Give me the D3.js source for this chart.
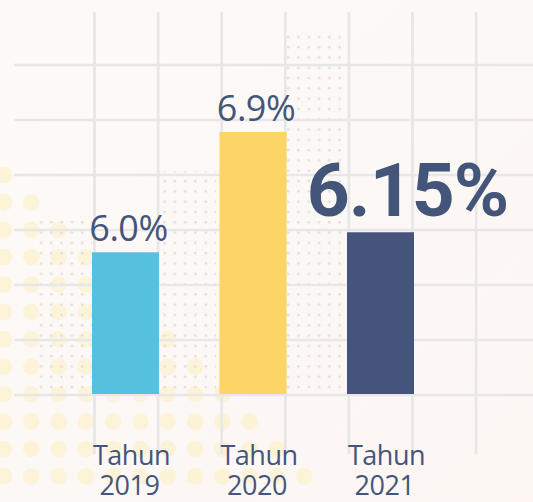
<!DOCTYPE html>
<html>
<head>
<meta charset="utf-8">
<script src="https://cdn.jsdelivr.net/npm/d3@7"></script>
<style>
  html, body { margin: 0; padding: 0; background: #fdf9f7; }
  svg { display: block; }
</style>
</head>
<body>
<svg id="chart" width="533" height="502"></svg>
<script>
// ---- data ----
const categories = ["2019", "2020", "2021"];
const categoryPrefix = "Tahun";
const values = [6.0, 6.9, 6.15];
const valueLabels = ["6.0%", "6.9%", "6.15%"];
const highlightIndex = 2;
const barColors = ["#56c1de", "#fdd466", "#44547a"];

// ---- setup ----
const W = 533, H = 502;
const svg = d3.select("#chart");
const textColor = "#44557a";

// background gradient
const defs = svg.append("defs");
const grad = defs.append("linearGradient").attr("id", "bg")
  .attr("x1", "0").attr("y1", "0").attr("x2", "1").attr("y2", "1");
grad.append("stop").attr("offset", "0").attr("stop-color", "#fdfaf8");
grad.append("stop").attr("offset", "0.5").attr("stop-color", "#fcf8f6");
grad.append("stop").attr("offset", "1").attr("stop-color", "#fdf6f3");
svg.append("rect").attr("width", W).attr("height", H).attr("fill", "url(#bg)");

// small gray dot pattern
const pat = defs.append("pattern").attr("id", "dots")
  .attr("patternUnits", "userSpaceOnUse")
  .attr("width", 10.3).attr("height", 10.3)
  .attr("x", 36).attr("y", 32);
pat.append("circle").attr("cx", 5).attr("cy", 5).attr("r", 1.4).attr("fill", "#e3e0df");

// decorative yellow dots (triangle at lower-left)
const yellow = svg.append("g").attr("fill", "#fdf0c0").attr("opacity", 0.55);
d3.range(12).forEach(j => {
  d3.range(j + 1).forEach(i => {
    yellow.append("circle")
      .attr("cx", 4 + 27.3 * i)
      .attr("cy", 175 + 27.4 * j)
      .attr("r", 8.3);
  });
});

// gray dotted blocks
const dotBlocks = [[37, 216, 55, 173], [159, 171, 57, 218], [287, 33, 56, 356]];
svg.append("g").selectAll("rect").data(dotBlocks).join("rect")
  .attr("x", d => d[0]).attr("y", d => d[1])
  .attr("width", d => d[2]).attr("height", d => d[3])
  .attr("fill", "url(#dots)");

// grid
const grid = svg.append("g").attr("stroke", "#e6e7e6").attr("stroke-width", 2.7);
const gridXs = d3.range(7).map(i => 94.5 + i * 63.6);
const gridYs = d3.range(7).map(i => 395 - i * 55);
grid.selectAll("line.v").data(gridXs).join("line").attr("class", "v")
  .attr("x1", d => d).attr("x2", d => d).attr("y1", 12).attr("y2", 454);
grid.selectAll("line.h").data(gridYs).join("line").attr("class", "h")
  .attr("x1", 14).attr("x2", W).attr("y1", d => d).attr("y2", d => d);

// scales
const x = d3.scaleBand().domain(categories)
  .range([61.75, 444.25]).paddingInner(0.4745).paddingOuter(0.2373);
const y = d3.scaleLinear().domain([4.94, 6.9]).range([394, 132]);

// bars
svg.append("g").selectAll("rect").data(categories).join("rect")
  .attr("x", d => x(d))
  .attr("width", x.bandwidth())
  .attr("y", (d, i) => y(values[i]))
  .attr("height", (d, i) => y.range()[0] - y(values[i]))
  .attr("fill", (d, i) => barColors[i]);

// value labels
svg.append("g").selectAll("text").data(categories).join("text")
  .attr("x", (d, i) => x(d) + x.bandwidth() / 2 + (i === highlightIndex ? 27 : 3))
  .attr("y", (d, i) => y(values[i]) - (i === highlightIndex ? 16 : 11))
  .attr("text-anchor", "middle")
  .attr("fill", textColor)
  .style("font-family", (d, i) => i === highlightIndex ? "Roboto, sans-serif" : "'Open Sans', sans-serif")
  .style("font-weight", (d, i) => i === highlightIndex ? 700 : 400)
  .style("font-size", (d, i) => i === highlightIndex ? "75px" : "36px")
  .style("letter-spacing", (d, i) => i === highlightIndex ? "-1px" : "-0.5px")
  .text((d, i) => valueLabels[i]);

// category axis labels
const xAxis = svg.append("g");
categories.forEach(c => {
  const cx = x(c) + x.bandwidth() / 2;
  const t = xAxis.append("text")
    .attr("x", cx + 6)
    .attr("y", 465)
    .attr("text-anchor", "middle")
    .attr("fill", textColor)
    .style("font-family", "'Open Sans', sans-serif")
    .style("font-size", "27px")
    .style("letter-spacing", "-0.5px");
  t.append("tspan").attr("x", cx + 6).text(categoryPrefix);
  t.append("tspan").attr("x", cx + 4).attr("dy", 30).text(c);
});
</script>
</body>
</html>
